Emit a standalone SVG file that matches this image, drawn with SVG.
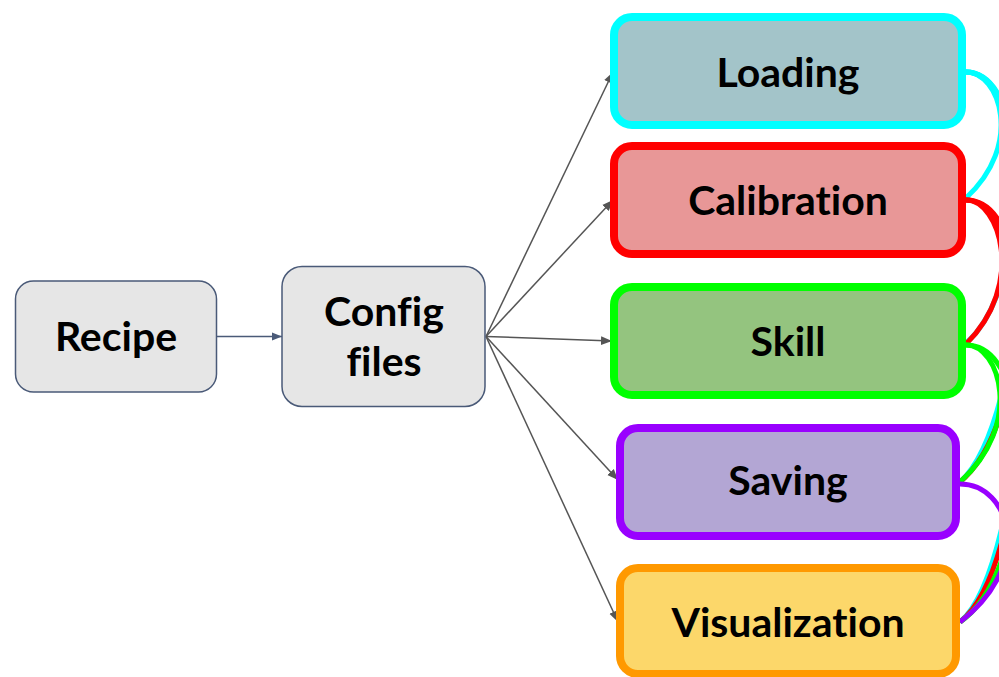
<svg xmlns="http://www.w3.org/2000/svg" width="999" height="677" viewBox="0 0 999 677">
<defs>
<style>
.t{font-family:Lato,"Liberation Sans",sans-serif;font-weight:700;fill:#000;text-anchor:middle;font-variant-ligatures:none;font-size:41px}
.gn{fill:#e6e6e6;stroke:#4a5a78;stroke-width:1.5}
.ln{fill:none;stroke:#555;stroke-width:1.5}
.cv{fill:none;stroke-width:5}
</style>
<marker id="ah" viewBox="0 0 10 10" refX="10" refY="5" markerWidth="11" markerHeight="11" markerUnits="userSpaceOnUse" orient="auto">
<path d="M0,1 L10,5 L0,9 Z" fill="#555"/>
</marker>
<marker id="ah2" viewBox="0 0 10 10" refX="10" refY="5" markerWidth="10" markerHeight="10" markerUnits="userSpaceOnUse" orient="auto">
<path d="M0,1 L10,5 L0,9 Z" fill="#4a5a78"/>
</marker>
</defs>
<rect width="999" height="677" fill="#fff"/>
<g id="connectors">
<line x1="217" y1="336.5" x2="282" y2="336.5" stroke="#4a5a78" stroke-width="1.5" marker-end="url(#ah2)"/>
<line class="ln" x1="486" y1="336.5" x2="613" y2="72" marker-end="url(#ah)"/>
<line class="ln" x1="486" y1="336.5" x2="613" y2="200" marker-end="url(#ah)"/>
<line class="ln" x1="486" y1="336.5" x2="612" y2="341" marker-end="url(#ah)"/>
<line class="ln" x1="486" y1="336.5" x2="618" y2="480" marker-end="url(#ah)"/>
<line class="ln" x1="486" y1="336.5" x2="618" y2="622" marker-end="url(#ah)"/>
<path class="cv" stroke="#00ffff" d="M966,72 C1000,72 1024,145 966,198"/>
<path class="cv" stroke="#00ffff" d="M966,72 C1035,72 1030,290 966,343"/>
<path class="cv" stroke="#00ffff" d="M966,72 C1050,72 1030,420 960,482"/>
<path class="cv" stroke="#00ffff" d="M966,72 C1060,72 1035,560 960,622"/>
<path class="cv" stroke="#ff0000" d="M966,200 C1000,200 1026,285 966,344"/>
<path class="cv" stroke="#ff0000" d="M966,200 C1040,200 1030,425 960,482"/>
<path class="cv" stroke="#ff0000" d="M966,200 C1050,200 1035,565 960,622"/>
<path class="cv" stroke="#00ff00" d="M966,345 C1000,345 1024,425 960,482"/>
<path class="cv" stroke="#00ff00" d="M966,345 C1040,345 1035,570 960,622"/>
<path class="cv" stroke="#9900ff" d="M960,484 C1010,484 1035,565 960,622"/>
</g>
<g id="recipe">
<rect class="gn" x="15.5" y="281" width="201" height="111" rx="18"/>
<text class="t" x="116" y="351">Recipe</text>
</g>
<g id="config">
<rect class="gn" x="282" y="266.5" width="203" height="140" rx="20"/>
<text class="t" x="384" y="326">Config</text>
<text class="t" x="384" y="376">files</text>
</g>
<g id="loading">
<rect x="614" y="17" width="348" height="108" rx="18" fill="#a3c4c9" stroke="#00ffff" stroke-width="8"/>
<text class="t" x="788" y="87">Loading</text>
</g>
<g id="calibration">
<rect x="614" y="146" width="348" height="108" rx="18" fill="#e89797" stroke="#ff0000" stroke-width="8"/>
<text class="t" x="788" y="215">Calibration</text>
</g>
<g id="skill">
<rect x="614" y="287" width="348" height="108" rx="18" fill="#94c47f" stroke="#00ff00" stroke-width="8"/>
<text class="t" x="788" y="356">Skill</text>
</g>
<g id="saving">
<rect x="620" y="428" width="336" height="108" rx="18" fill="#b3a6d4" stroke="#9900ff" stroke-width="8"/>
<text class="t" x="788" y="495">Saving</text>
</g>
<g id="visualization">
<rect x="620" y="568" width="336" height="106" rx="18" fill="#fcd76a" stroke="#ff9900" stroke-width="8"/>
<text class="t" x="788" y="637">Visualization</text>
</g>
</svg>
